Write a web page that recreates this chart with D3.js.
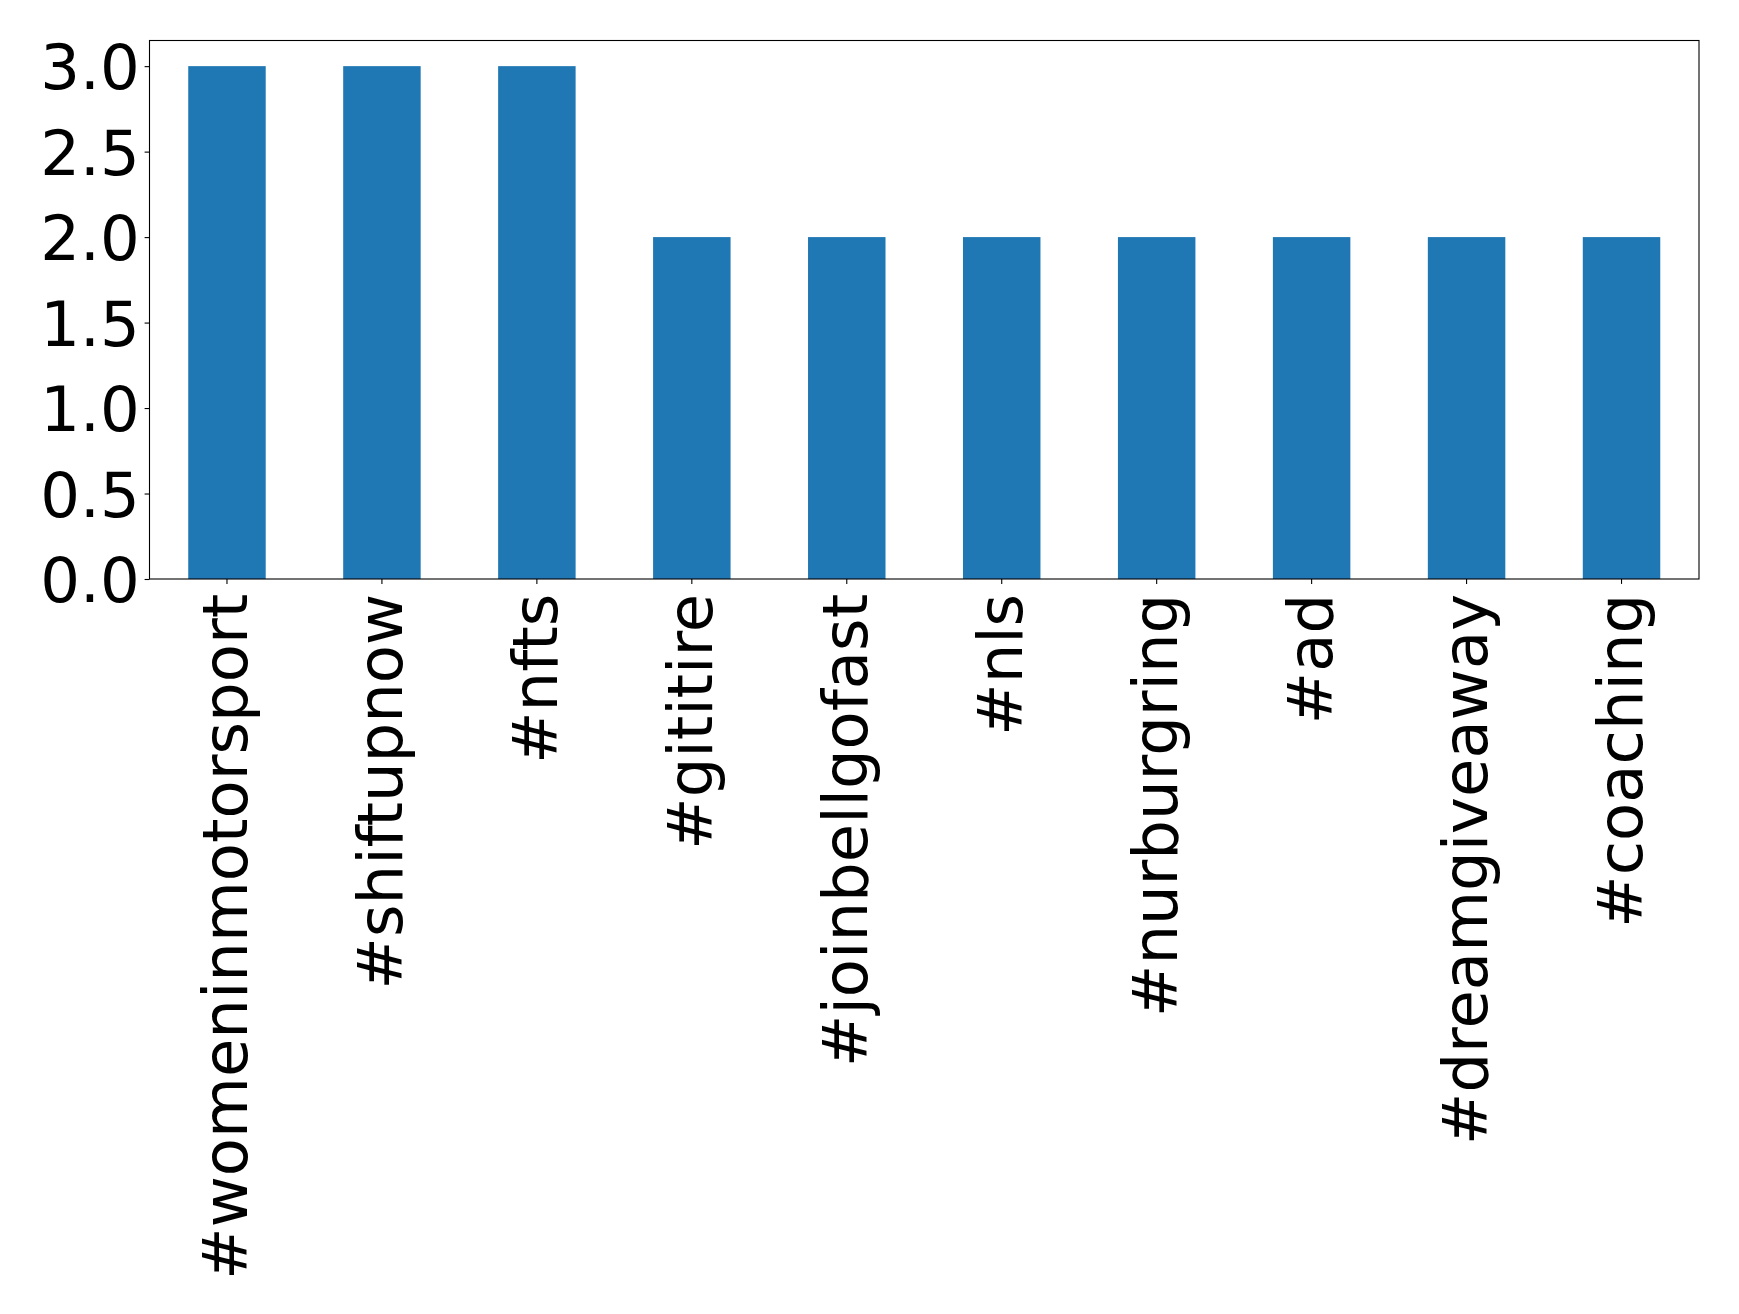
<!DOCTYPE html>
<html><head><meta charset="utf-8">
<script src="https://cdn.jsdelivr.net/npm/d3@7"></script>
<style>body{margin:0;background:#fff}svg{display:block}</style>
</head><body>
<svg id="chart" width="1739" height="1314"></svg>
<script>
const categories = ["#womeninmotorsport","#shiftupnow","#nfts","#gititire","#joinbellgofast","#nls","#nurburgring","#ad","#dreamgiveaway","#coaching"];
const values = [3,3,3,2,2,2,2,2,2,2];
const yTicks = [0,0.5,1.0,1.5,2.0,2.5,3.0];

const svg = d3.select("#chart");
const L = 149.5, R = 1699, T = 40.5, B = 579;
const fontSize = 62.5;
const font = "DejaVu Sans";

const x = d3.scaleBand().domain(categories).range([L, R]).paddingInner(0.5).paddingOuter(0.25);
const y = d3.scaleLinear().domain([0, 3.15]).range([B, T]);

svg.append("g").selectAll("rect").data(values).join("rect")
  .attr("x", (d,i) => x(categories[i]))
  .attr("width", x.bandwidth())
  .attr("y", d => y(d))
  .attr("height", d => y(0) - y(d))
  .attr("fill", "#1f77b4");

const yAxis = svg.append("g").attr("transform", `translate(${L},0)`)
  .call(d3.axisLeft(y).tickValues(yTicks).tickFormat(d3.format(".1f")).tickSizeOuter(0).tickSize(4.9).tickPadding(4.9));
yAxis.select(".domain").remove();
yAxis.selectAll("line").attr("stroke", "#000").attr("stroke-width", 1.1);
yAxis.selectAll("text").attr("font-family", font).attr("font-size", fontSize).attr("fill", "#000").attr("dy", "0.36em");

const xAxis = svg.append("g").attr("transform", `translate(0,${B})`)
  .call(d3.axisBottom(x).tickSizeOuter(0).tickSize(4.9).tickPadding(0));
xAxis.select(".domain").remove();
xAxis.selectAll("line").attr("stroke", "#000").attr("stroke-width", 1.1);
xAxis.selectAll("text")
  .attr("font-family", font).attr("font-size", fontSize).attr("fill", "#000")
  .attr("text-anchor", "end")
  .attr("y", 0).attr("dy", "0.32em")
  .attr("transform", "translate(0,14.8) rotate(-90)");

svg.append("rect").attr("x", L).attr("y", T).attr("width", R - L).attr("height", B - T)
  .attr("fill", "none").attr("stroke", "#000").attr("stroke-width", 1.1);
</script>
</body></html>
